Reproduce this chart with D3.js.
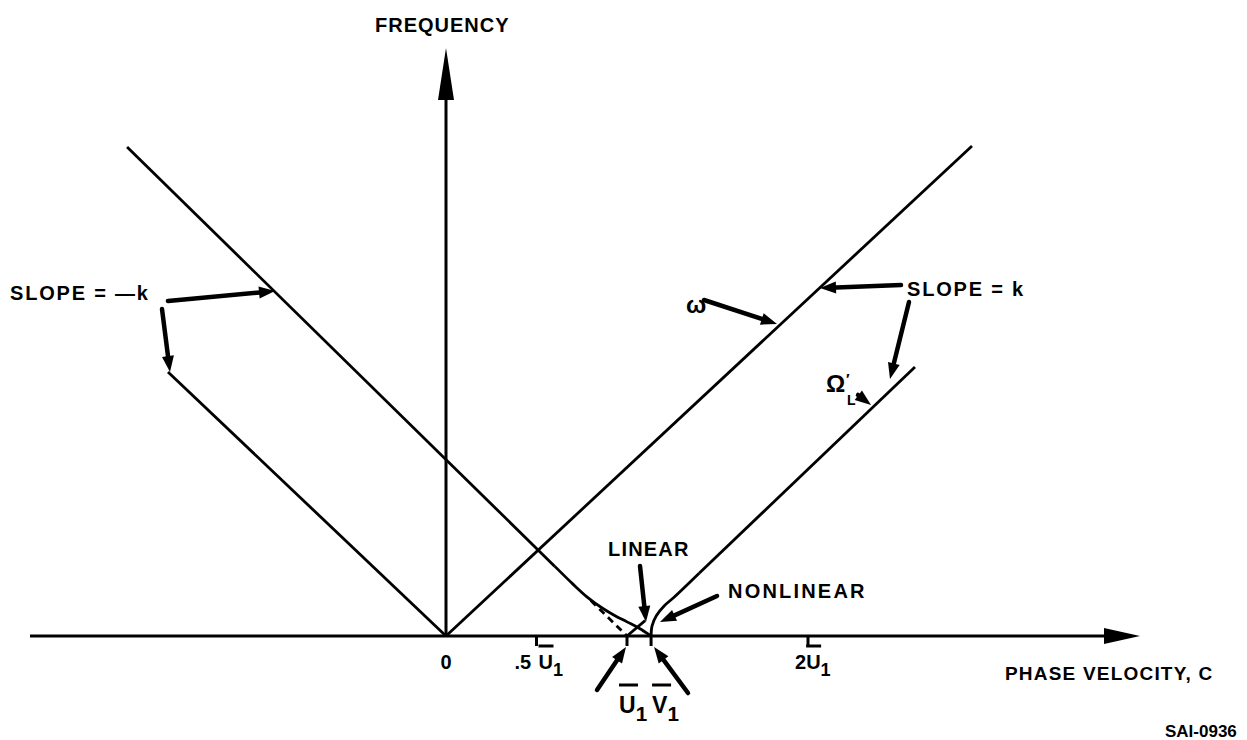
<!DOCTYPE html>
<html>
<head>
<meta charset="utf-8">
<script src="https://cdn.jsdelivr.net/npm/d3@7"></script>
<style>
  html, body { margin: 0; padding: 0; background: #fff; }
  svg text { font-family: "Liberation Sans", Arial, Helvetica, sans-serif; font-weight: bold; fill: #000; }
</style>
</head>
<body>
<svg id="chart" width="1247" height="740"></svg>
<script>
// Phase velocity c (units of U1) vs frequency (units of k*U1)
const omegaLine      = [[0, 0], [2.906, 2.707]];                          // ω = k c
const slopeNegTop    = [[-1.762, 2.702], [0.60, 0.386]];                  // straight part, slope −k
const slopeNegCurve  = [[0.60, 0.386], [0.70, 0.288], [0.78, 0.215], [0.867, 0.152], [0.934, 0.112], [1.0, 0.078], [1.072, 0.040], [1.133, 0.0]];
const slopeNegDashed = [[0.80, 0.196], [1.0, 0.0]];                       // linear continuation to U1
const slopeNegLow    = [[-1.536, 1.459], [0, 0]];
const omegaLCurve    = [[1.133, 0.0], [1.138, 0.055], [1.162, 0.112], [1.205, 0.166], [1.26, 0.214], [1.40, 0.348]];
const omegaLStraight = [[1.40, 0.348], [2.591, 1.486]];
const omegaLLinear   = [[1.0, 0.0], [1.10, 0.085]];
const tickValues = [0, 0.5, 2];
const U1 = 1.0, V1 = 1.133;

const svg = d3.select("#chart");
const x = d3.scaleLinear().domain([0, 1]).range([446, 627]);
const y = d3.scaleLinear().domain([0, 1]).range([636, 455]);
const line = d3.line().x(d => x(d[0])).y(d => y(d[1]));
const smoothX = d3.line().x(d => x(d[0])).y(d => y(d[1])).curve(d3.curveMonotoneX);
const smooth = d3.line().x(d => x(d[0])).y(d => y(d[1])).curve(d3.curveCatmullRom);

// filled arrowhead at (x2,y2) pointing from (x1,y1)
function arrowHead(g, x1, y1, x2, y2, len, half) {
  const a = Math.atan2(y2 - y1, x2 - x1);
  const bx = x2 - len * Math.cos(a), by = y2 - len * Math.sin(a);
  const px = -Math.sin(a) * half, py = Math.cos(a) * half;
  g.append("polygon")
    .attr("points", [[x2, y2], [bx + px, by + py], [bx - px, by - py]].map(p => p.join(",")).join(" "))
    .attr("fill", "#000");
}
function pointer(x1, y1, x2, y2) {
  const g = svg.append("g");
  const a = Math.atan2(y2 - y1, x2 - x1);
  g.append("line").attr("x1", x1).attr("y1", y1)
    .attr("x2", x2 - 10 * Math.cos(a)).attr("y2", y2 - 10 * Math.sin(a))
    .attr("stroke", "#000").attr("stroke-width", 4.5).attr("stroke-linecap", "round");
  arrowHead(g, x1, y1, x2, y2, 16, 6);
}

// axes
const ax = svg.append("g");
ax.append("line").attr("x1", 30).attr("y1", y(0)).attr("x2", 1110).attr("y2", y(0))
  .attr("stroke", "#000").attr("stroke-width", 3);
arrowHead(ax, 1090, y(0), 1140, y(0), 36, 8);
ax.append("line").attr("x1", x(0)).attr("y1", y(0)).attr("x2", x(0)).attr("y2", 90)
  .attr("stroke", "#000").attr("stroke-width", 3);
arrowHead(ax, x(0), 200, x(0), 48, 52, 8);

// ticks below the axis
tickValues.filter(v => v > 0).concat([U1, V1]).forEach(v => {
  ax.append("line").attr("x1", x(v)).attr("x2", x(v)).attr("y1", y(0)).attr("y2", y(0) + 10)
    .attr("stroke", "#000").attr("stroke-width", 3);
});

// curves
const lines = svg.append("g").attr("fill", "none").attr("stroke", "#000").attr("stroke-width", 2.8);
lines.append("path").attr("d", line(omegaLine));
lines.append("path").attr("d", line(slopeNegTop));
lines.append("path").attr("d", smoothX(slopeNegCurve));
lines.append("path").attr("d", line(slopeNegDashed)).attr("stroke-dasharray", "7,5");
lines.append("path").attr("d", line(slopeNegLow));
lines.append("path").attr("d", smooth(omegaLCurve));
lines.append("path").attr("d", line(omegaLStraight));
lines.append("path").attr("d", line(omegaLLinear));

// letter with overbar and subscript
function barLabel(xp, yp, pre, letter, sub, size, barY, barW) {
  const t = svg.append("text").attr("x", xp).attr("y", yp).attr("font-size", size);
  let bx = xp;
  if (pre) { t.append("tspan").text(pre); bx += size * 0.556; }
  t.append("tspan").text(letter);
  t.append("tspan").attr("dy", size * 0.35).attr("font-size", size * 0.9).text(sub);
  svg.append("line").attr("x1", bx).attr("x2", bx + barW).attr("y1", barY).attr("y2", barY)
    .attr("stroke", "#000").attr("stroke-width", 3);
}

svg.append("text").attr("x", 375).attr("y", 32).attr("font-size", 20).attr("letter-spacing", 1).text("FREQUENCY");
svg.append("text").attr("x", 1005).attr("y", 680).attr("font-size", 19).attr("letter-spacing", 1.2).text("PHASE VELOCITY, C");
svg.append("text").attr("x", 1165).attr("y", 737).attr("font-size", 17).text("SAI-0936");

// tick labels
svg.append("text").attr("x", x(0)).attr("y", 669).attr("font-size", 20).attr("text-anchor", "middle").text("0");
svg.append("text").attr("x", x(0.5) - 22).attr("y", 669).attr("font-size", 20).text(".5");
barLabel(x(0.5) + 2, 669, null, "U", "1", 20, 646, 15);
barLabel(x(2) - 13, 669, "2", "U", "1", 20, 646, 15);

// U1 / V1 labels
barLabel(x(U1) - 8, 713, null, "U", "1", 23, 685, 19);
barLabel(x(V1) + 1, 713, null, "V", "1", 23, 685, 19);
pointer(597, 690, x(U1) - 1, 647);
pointer(688, 693, x(V1) + 3, 647);

// LINEAR / NONLINEAR
svg.append("text").attr("x", 608).attr("y", 556).attr("font-size", 20).attr("letter-spacing", 1.2).text("LINEAR");
pointer(640, 566, 646, 622);
svg.append("text").attr("x", 728).attr("y", 598).attr("font-size", 20).attr("letter-spacing", 2.2).text("NONLINEAR");
pointer(717, 596, 660, 622);

// slope annotations
svg.append("text").attr("x", 10).attr("y", 300).attr("font-size", 20).attr("letter-spacing", 1.8).text("SLOPE = \u2014k");
pointer(168, 301, 275, 291);
pointer(162, 309, 170, 372);
svg.append("text").attr("x", 907).attr("y", 296).attr("font-size", 20).attr("letter-spacing", 1.8).text("SLOPE = k");
pointer(901, 285, 820, 288);
pointer(909, 302, 890, 379);

// ω and Ω'_L
svg.append("text").attr("x", 686).attr("y", 313).attr("font-size", 24).attr("font-weight", "normal").text("\u03C9");
pointer(704, 300, 777, 324);
svg.append("text").attr("x", 826).attr("y", 392).attr("font-size", 24).attr("font-weight", "normal").text("\u03A9");
svg.append("text").attr("x", 846).attr("y", 384).attr("font-size", 15).attr("font-weight", "normal").text("\u2032");
svg.append("text").attr("x", 847).attr("y", 405).attr("font-size", 14).text("L");
pointer(858, 395, 871, 405);
</script>
</body>
</html>
